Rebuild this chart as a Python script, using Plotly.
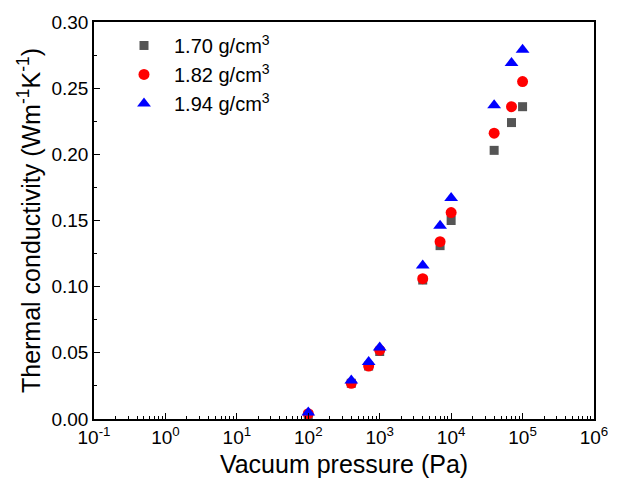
import plotly.graph_objects as go

pressure = [100, 400, 700, 1000, 4000, 7000, 10000, 40000, 70000, 100000]
k_170 = [0.003, 0.027, 0.040, 0.051, 0.105, 0.131, 0.150, 0.203, 0.224, 0.236]
k_182 = [0.004, 0.027, 0.040, 0.052, 0.106, 0.134, 0.156, 0.216, 0.236, 0.255]
k_194 = [0.005, 0.029, 0.043, 0.054, 0.116, 0.146, 0.167, 0.237, 0.269, 0.279]

series_names = ["1.70 g/cm<sup>3</sup>", "1.82 g/cm<sup>3</sup>", "1.94 g/cm<sup>3</sup>"]
x_tickvals = [0.1, 1, 10, 100, 1000, 10000, 100000, 1000000]
x_ticktext = ["10<sup>-1</sup>", "10<sup>0</sup>", "10<sup>1</sup>", "10<sup>2</sup>",
              "10<sup>3</sup>", "10<sup>4</sup>", "10<sup>5</sup>", "10<sup>6</sup>"]
y_tickvals = [0.00, 0.05, 0.10, 0.15, 0.20, 0.25, 0.30]
y_ticktext = ["0.00", "0.05", "0.10", "0.15", "0.20", "0.25", "0.30"]

FONT = "Liberation Sans, Arial, sans-serif"

fig = go.Figure()
fig.add_trace(go.Scatter(x=pressure, y=k_170, mode="markers", name=series_names[0],
                         marker=dict(symbol="square", size=9, color="#555555")))
fig.add_trace(go.Scatter(x=pressure, y=k_182, mode="markers", name=series_names[1],
                         marker=dict(symbol="circle", size=11, color="#ff0000")))
fig.add_trace(go.Scatter(x=pressure, y=k_194, mode="markers", name=series_names[2],
                         marker=dict(symbol="triangle-up", size=12, color="#0000ff")))

fig.update_layout(
    width=620, height=489,
    margin=dict(l=94, r=26, t=17, b=70),
    paper_bgcolor="white", plot_bgcolor="white",
    font=dict(family=FONT, size=19, color="black"),
    legend=dict(x=0.04, y=0.99, xanchor="left", yanchor="top", itemwidth=50,
                bgcolor="rgba(0,0,0,0)", font=dict(size=20), tracegroupgap=4),
    showlegend=True,
)
fig.update_xaxes(
    type="log", range=[-1, 6],
    tickvals=x_tickvals, ticktext=x_ticktext,
    ticks="inside", ticklen=6, tickwidth=1.2, tickcolor="black",
    minor=dict(ticks="inside", ticklen=3, tickwidth=1, tickcolor="black", dtick="D1", showgrid=False),
    showline=True, linecolor="black", linewidth=1.5, mirror=True,
    showgrid=False, zeroline=False,
    title=dict(text="Vacuum pressure (Pa)", font=dict(size=25), standoff=9),
    tickfont=dict(size=19),
)
fig.update_yaxes(
    range=[0, 0.30],
    tickvals=y_tickvals, ticktext=y_ticktext,
    ticks="inside", ticklen=6, tickwidth=1.2, tickcolor="black",
    minor=dict(ticks="inside", ticklen=3, tickwidth=1, tickcolor="black", dtick=0.025, showgrid=False),
    showline=True, linecolor="black", linewidth=1.5, mirror=True,
    showgrid=False, zeroline=False,
    title=dict(text="Thermal conductivity (Wm<sup>-1</sup>K<sup>-1</sup>)", font=dict(size=25), standoff=4),
    tickfont=dict(size=19),
)

fig.write_html("out.html", config={"displayModeBar": False},
               post_script="document.body.style.margin='0';")
